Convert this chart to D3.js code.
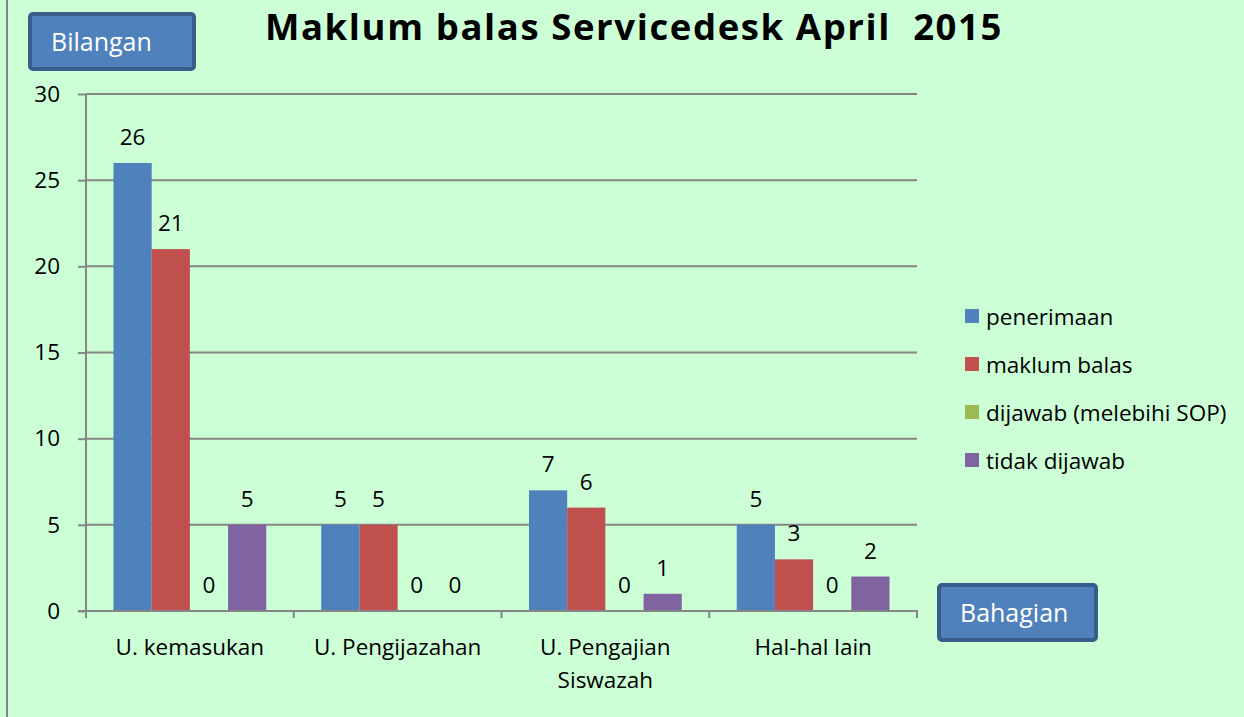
<!DOCTYPE html>
<html>
<head>
<meta charset="utf-8">
<script src="https://cdn.jsdelivr.net/npm/d3@7"></script>
<style>
  body { margin: 0; background: #ccffd6; }
  svg { display: block; font-family: "Open Sans", "Noto Sans", sans-serif; }
</style>
</head>
<body>
<div id="chart"></div>
<script>
// data
var categories = ["U. kemasukan", "U. Pengijazahan", "U. Pengajian Siswazah", "Hal-hal lain"];
var seriesNames = ["penerimaan", "maklum balas", "dijawab (melebihi SOP)", "tidak dijawab"];
var penerimaan = [26, 5, 7, 5];
var maklumBalas = [21, 5, 6, 3];
var dijawab = [0, 0, 0, 0];
var tidakDijawab = [5, 0, 1, 2];
var yTicks = [0, 5, 10, 15, 20, 25, 30];
var colors = ["#4f81bd", "#c0504d", "#9bbb59", "#8064a2"];

var seriesValues = [penerimaan, maklumBalas, dijawab, tidakDijawab];

var W = 1244, H = 717;
var margin = {top: 94, right: 327, bottom: 106, left: 86},
    width = W - margin.left - margin.right,
    height = H - margin.top - margin.bottom;
var fs = 22.5;

var svg = d3.select("#chart").append("svg")
    .attr("width", W)
    .attr("height", H);

svg.append("rect").attr("width", W).attr("height", H).attr("fill", "#ccffd6");
// left frame line
svg.append("line")
  .attr("x1", 7).attr("x2", 7).attr("y1", 0).attr("y2", H)
  .attr("stroke", "#868686").attr("stroke-width", 2);

var g = svg.append("g").attr("transform", "translate(" + margin.left + "," + margin.top + ")");

var x = d3.scaleBand().domain(categories).range([0, width]);
var xs = d3.scaleBand().domain(seriesNames).range([0, x.bandwidth()]).paddingOuter(0.72);
var y = d3.scaleLinear().domain([0, 30]).range([height, 0]);

// gridlines
g.selectAll(".grid")
  .data(yTicks.filter(function(d){ return d > 0; }))
  .enter().append("line")
    .attr("x1", 0).attr("x2", width)
    .attr("y1", function(d){ return y(d); })
    .attr("y2", function(d){ return y(d); })
    .attr("stroke", "#868686").attr("stroke-width", 2);

// y axis
var yAxis = g.append("g")
  .call(d3.axisLeft(y).tickValues(yTicks).tickSize(8).tickPadding(18));
yAxis.select(".domain").attr("stroke", "#868686").attr("stroke-width", 2).attr("d", "M0," + height + "V0");
yAxis.selectAll(".tick line").attr("stroke", "#868686").attr("stroke-width", 2);
yAxis.selectAll("text").attr("font-size", fs).attr("fill", "#000").attr("font-family", "Open Sans");

// bars
var groups = g.selectAll(".grp")
  .data(categories)
  .enter().append("g")
    .attr("transform", function(d){ return "translate(" + x(d) + ",0)"; });

groups.each(function(cat, ci) {
  var grp = d3.select(this);
  var rows = seriesNames.map(function(s, si){ return {s: s, si: si, v: seriesValues[si][ci]}; });
  grp.selectAll("rect")
    .data(rows)
    .enter().append("rect")
      .attr("x", function(d){ return xs(d.s); })
      .attr("width", xs.bandwidth())
      .attr("y", function(d){ return y(d.v); })
      .attr("height", function(d){ return height - y(d.v); })
      .attr("fill", function(d){ return colors[d.si]; });
  grp.selectAll("text")
    .data(rows)
    .enter().append("text")
      .attr("x", function(d){ return xs(d.s) + xs.bandwidth() / 2; })
      .attr("y", function(d){ return y(d.v) - 18; })
      .attr("text-anchor", "middle")
      .attr("font-size", fs)
      .text(function(d){ return d.v; });
});

// x axis
var xAxis = g.append("g").attr("transform", "translate(0," + height + ")")
  .call(d3.axisBottom(x).tickSize(0).tickFormat(""));
xAxis.select(".domain").attr("stroke", "#868686").attr("stroke-width", 2).attr("d", "M-8,0H" + width + "V7");
g.selectAll(".xtick")
  .data(d3.range(categories.length))
  .enter().append("line")
    .attr("x1", function(i){ return x(categories[i]); })
    .attr("x2", function(i){ return x(categories[i]); })
    .attr("y1", height).attr("y2", height + 7)
    .attr("stroke", "#868686").attr("stroke-width", 2);

// category labels (wrap long one)
var labelLines = {"U. Pengajian Siswazah": ["U. Pengajian", "Siswazah"]};
categories.forEach(function(c) {
  var lines = labelLines[c] || [c];
  var t = g.append("text")
    .attr("x", x(c) + x.bandwidth() / 2)
    .attr("y", height + 44)
    .attr("text-anchor", "middle")
    .attr("font-size", fs);
  lines.forEach(function(l, i) {
    t.append("tspan")
      .attr("x", x(c) + x.bandwidth() / 2)
      .attr("dy", i === 0 ? 0 : 33)
      .text(l);
  });
});

// title
svg.append("text")
  .attr("x", 634).attr("y", 39.5)
  .attr("text-anchor", "middle")
  .attr("font-size", 36.5)
  .attr("letter-spacing", 1.6)
  .attr("font-weight", "bold")
  .text("Maklum balas Servicedesk April\u00a0 2015");

// axis label boxes
function labelBox(bx, by, bw, bh, txt) {
  svg.append("rect")
    .attr("x", bx).attr("y", by).attr("width", bw).attr("height", bh)
    .attr("rx", 3)
    .attr("fill", "#4f81bd").attr("stroke", "#385d8a").attr("stroke-width", 4);
  svg.append("text")
    .attr("x", bx + 21).attr("y", by + bh / 2 + 9)
    .attr("fill", "#fff").attr("font-size", 25)
    .text(txt);
}
labelBox(30, 14, 164, 55, "Bilangan");
labelBox(939, 585, 157, 55, "Bahagian");

// legend
var legend = svg.append("g").attr("transform", "translate(965,317)");
var li = legend.selectAll("g")
  .data(seriesNames)
  .enter().append("g")
    .attr("transform", function(d, i){ return "translate(0," + (i * 48) + ")"; });
li.append("rect")
  .attr("x", 0).attr("y", -8).attr("width", 14).attr("height", 14)
  .attr("fill", function(d, i){ return colors[i]; });
li.append("text")
  .attr("x", 21).attr("y", 8)
  .attr("font-size", fs)
  .text(function(d){ return d; });
</script>
</body>
</html>
